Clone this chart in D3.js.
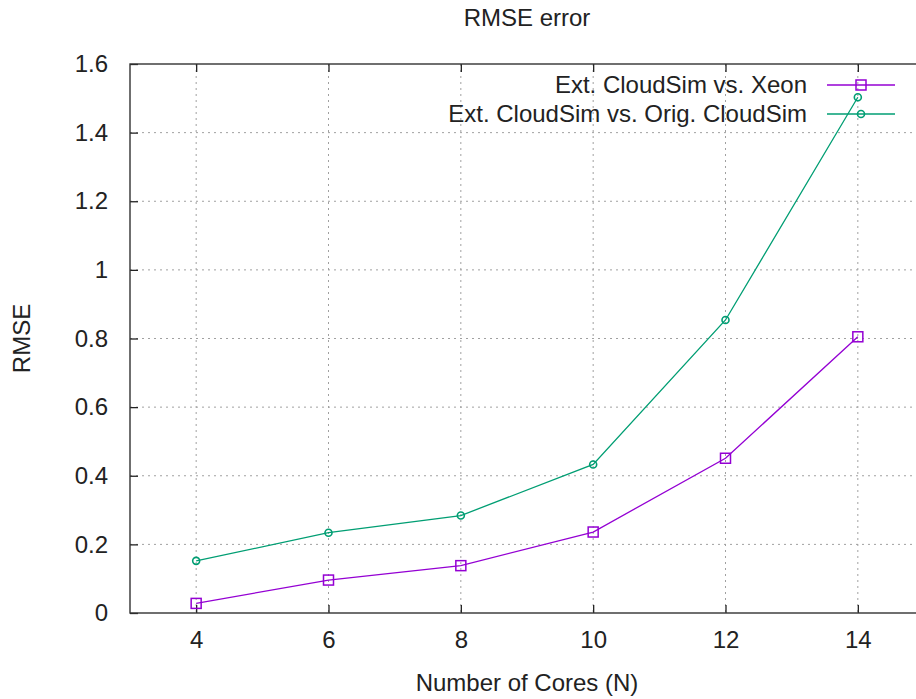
<!DOCTYPE html>
<meta charset="UTF-8">
<style>
body { margin: 0; background: #fff; }
text { font-family: "Liberation Sans", Arial, sans-serif; fill: #222; }
.grid line { stroke: #a0a0a0; stroke-width: 1; stroke-dasharray: 2,4; }
</style>
<body>
<script src="https://d3js.org/d3.v7.min.js"></script>
<script>
// data
var cores = [4, 6, 8, 10, 12, 14];
var xeonRmse = [0.028, 0.096, 0.138, 0.236, 0.451, 0.805];
var origRmse = [0.152, 0.234, 0.284, 0.433, 0.854, 1.503];
var xTicks = [4, 6, 8, 10, 12, 14];
var yTicks = [0, 0.2, 0.4, 0.6, 0.8, 1, 1.2, 1.4, 1.6];

var series = [
  {name: "Ext. CloudSim vs. Xeon", values: xeonRmse, color: "#9400d3", marker: "square"},
  {name: "Ext. CloudSim vs. Orig. CloudSim", values: origRmse, color: "#009e73", marker: "circle"}
];

var W = 916, H = 699;
var margin = {top: 64, right: -8, bottom: 86, left: 130},
    width = W - margin.left - margin.right,
    height = H - margin.top - margin.bottom;

var x = d3.scaleLinear().domain([3, 15]).range([0, width]);
var y = d3.scaleLinear().domain([0, 1.6]).range([height, 0]);

var svg = d3.select("body").append("svg")
    .attr("width", W)
    .attr("height", H),
  g = svg.append("g")
    .attr("transform", "translate(" + margin.left + "," + margin.top + ")");

// grid
var grid = g.append("g").attr("class", "grid");
grid.selectAll(".gx")
  .data(xTicks)
  .enter().append("line")
    .attr("x1", d => x(d)).attr("x2", d => x(d))
    .attr("y1", 0).attr("y2", height);
grid.selectAll(".gy")
  .data(yTicks.slice(1, -1))
  .enter().append("line")
    .attr("y1", d => y(d)).attr("y2", d => y(d))
    .attr("x1", 0).attr("x2", width);

// axes: ticks point inward, labels outside
var xAxis = g.append("g")
    .attr("transform", "translate(0," + height + ")")
    .call(d3.axisBottom(x).tickValues(xTicks).tickSize(-8).tickPadding(18).tickFormat(d3.format("d")));
var xTop = g.append("g")
    .call(d3.axisTop(x).tickValues(xTicks).tickSize(-8).tickFormat(""));
var yAxis = g.append("g")
    .call(d3.axisLeft(y).tickValues(yTicks).tickSize(-8).tickPadding(22).tickFormat(d => d3.format("")(+d.toFixed(1))));

[xAxis, xTop, yAxis].forEach(function(a) {
  a.select(".domain").remove();
  a.selectAll(".tick line").attr("stroke", "#222").attr("stroke-width", 1.3);
  a.selectAll(".tick text").style("font-size", "24px").attr("fill", "#222");
});

// border
g.append("rect")
  .attr("width", width).attr("height", height)
  .attr("fill", "none").attr("stroke", "#333").attr("stroke-width", 1.4);

// lines
var line = d3.line()
  .x((d, i) => x(cores[i]))
  .y(d => y(d));

series.forEach(function(s) {
  g.append("path")
    .datum(s.values)
    .attr("fill", "none")
    .attr("stroke", s.color)
    .attr("stroke-width", 1.3)
    .attr("d", line);
  drawMarkers(g, s, s.values.map((v, i) => [x(cores[i]), y(v)]));
});

function drawMarkers(parent, s, pts) {
  var m = parent.selectAll(null).data(pts).enter();
  if (s.marker === "square") {
    m.append("rect")
      .attr("x", d => d[0] - 5).attr("y", d => d[1] - 5)
      .attr("width", 10).attr("height", 10)
      .attr("fill", "none").attr("stroke", s.color).attr("stroke-width", 1.5);
  } else {
    m.append("circle")
      .attr("cx", d => d[0]).attr("cy", d => d[1]).attr("r", 3.5)
      .attr("fill", "none").attr("stroke", s.color).attr("stroke-width", 1.6);
  }
}

// legend
var legend = svg.append("g");
series.forEach(function(s, i) {
  var ly = 85 + i * 29;
  legend.append("text")
    .attr("x", 807).attr("y", ly)
    .attr("dy", "0.35em")
    .attr("text-anchor", "end")
    .style("font-size", "24px")
    .text(s.name);
  legend.append("line")
    .attr("x1", 827).attr("x2", 895)
    .attr("y1", ly).attr("y2", ly)
    .attr("stroke", s.color).attr("stroke-width", 1.3);
  drawMarkers(legend, s, [[861, ly]]);
});

// titles
svg.append("text")
  .attr("x", margin.left + width / 2).attr("y", 18)
  .attr("dy", "0.35em")
  .attr("text-anchor", "middle")
  .style("font-size", "24px")
  .text("RMSE error");

svg.append("text")
  .attr("x", margin.left + width / 2).attr("y", 683)
  .attr("dy", "0.35em")
  .attr("text-anchor", "middle")
  .style("font-size", "24px")
  .text("Number of Cores (N)");

svg.append("text")
  .attr("transform", "translate(22," + (margin.top + height / 2) + ") rotate(-90)")
  .attr("dy", "0.35em")
  .attr("text-anchor", "middle")
  .style("font-size", "24px")
  .text("RMSE");
</script>
</body>
